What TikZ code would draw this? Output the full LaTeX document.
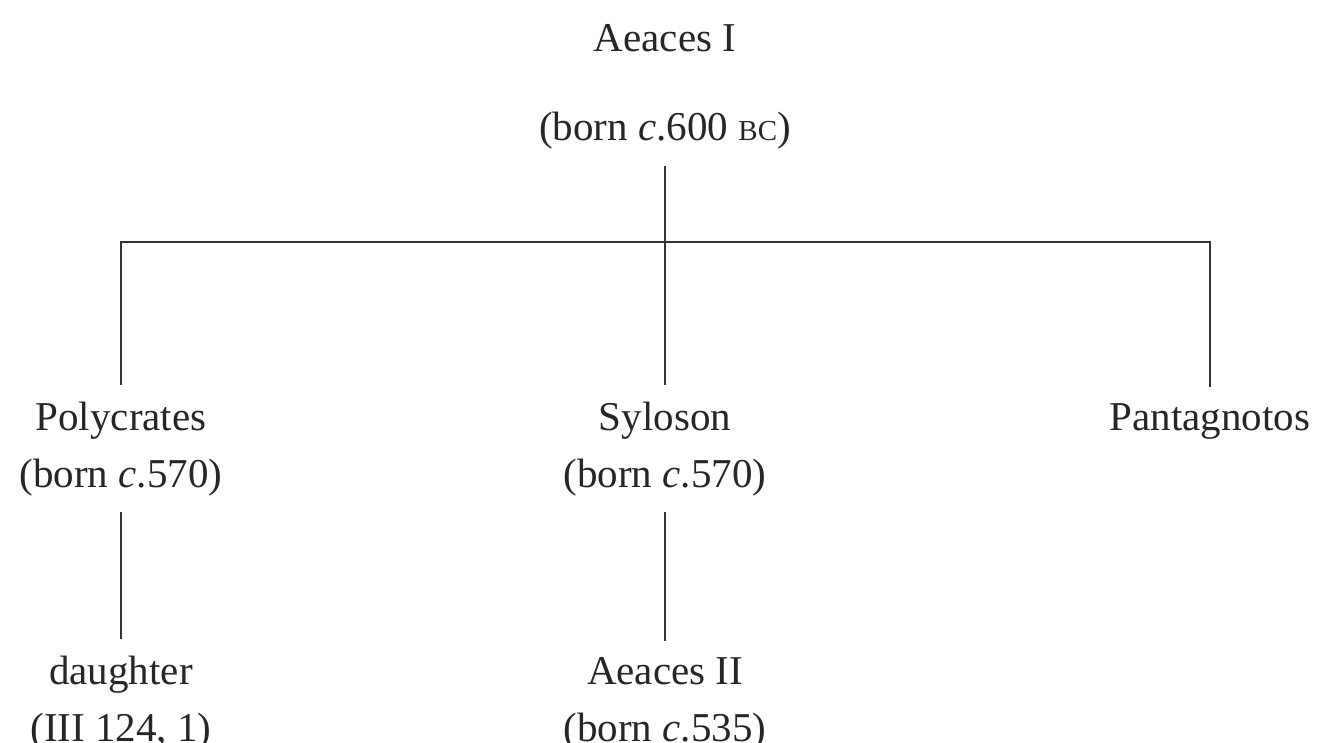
\documentclass[tikz,border=0pt]{standalone}
\usepackage{fontspec}
\setmainfont{Liberation Serif}
\usetikzlibrary{positioning}
% small capitals and "circa"
\newcommand{\smcaps}[1]{{\fontsize{14.5}{14.5}\selectfont #1}}
\newcommand{\circa}{\textit{c}.}
\tikzset{
	% Specifications for style of nodes:
	person/.style = {align=center, inner xsep=0pt, inner ysep=8pt,
	font=\fontsize{20.5}{28.5}\selectfont, text=black!85},
	link/.style = {line width=1pt, draw=black!80},
}

\begin{document}
\begin{tikzpicture}[x=0.5pt, y=-0.5pt]
	\useasboundingbox (0,0) rectangle (1321,743);
		% draw people (anchored at the baseline of the last line)
		\node (aeacesI)[person, anchor=base] at (665,141) {Aeaces I\\[16pt](born \circa600 \smcaps{BC})};
		\node (polycrates)[person, anchor=base] at (121,487) {Polycrates\\(born \circa570)};
		\node (syloson)[person, anchor=base] at (665,487) {Syloson\\(born \circa570)};
		\node (pantagnotos)[person, anchor=base] at (1210,430) {Pantagnotos};
		\node (daughter)[person, anchor=base] at (121,741) {daughter\\(III 124, 1)};
		\node (aeacesII)[person, anchor=base] at (665,741) {Aeaces II\\(born \circa535)};
		% branch point under Aeaces I
		\coordinate (fork) at (665,242);
		% draw lines between people
		\draw[link](aeacesI.south) -- (fork);
		\draw[link](polycrates.north) |- (fork) -| (pantagnotos.north);
		\draw[link](fork) -- (syloson.north);
		\draw[link](polycrates.south) -- (daughter.north);
		\draw[link](syloson.south) -- (aeacesII.north);
	\end{tikzpicture}
\end{document}
